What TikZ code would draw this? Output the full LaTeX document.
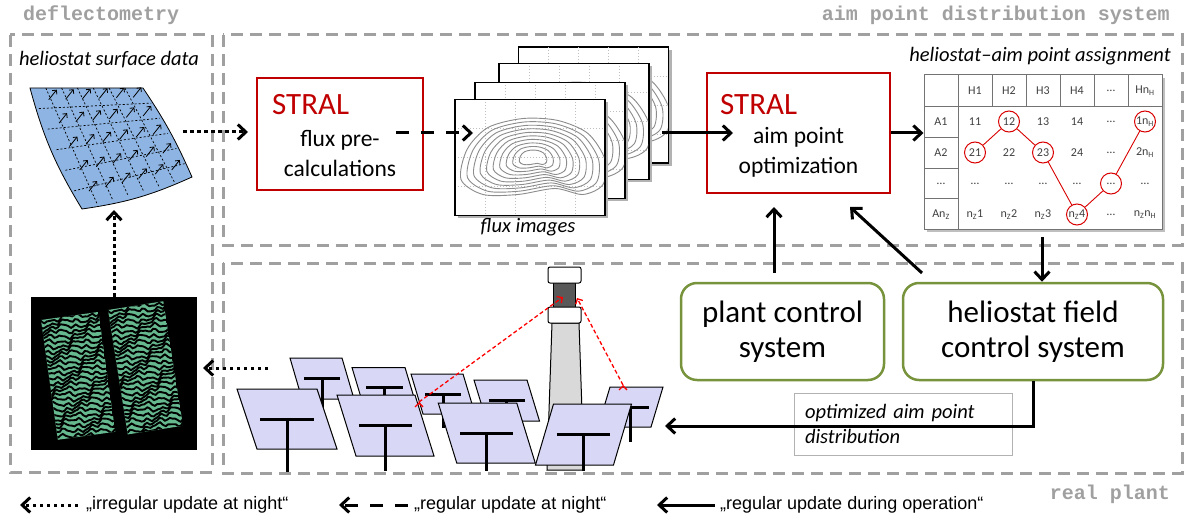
\documentclass[tikz,border=0pt]{standalone}
\usepackage{fontspec}
\setmainfont{Carlito}
\newfontfamily\labelfont{Liberation Mono}
\newfontfamily\legendfont{Liberation Sans}
\usepackage{tikz}
\usetikzlibrary{arrows.meta,calc}

\definecolor{stralred}{HTML}{C00000}
\definecolor{ctrlgreen}{HTML}{77933C}
\definecolor{framegray}{HTML}{A0A0A0}
\definecolor{surfblue}{HTML}{8DB4E2}
\definecolor{panelblue}{HTML}{D8D8F6}
\definecolor{towergray}{HTML}{D9D9D9}
\definecolor{recvgray}{HTML}{595959}
\definecolor{stripegreen}{HTML}{66B88E}
\definecolor{tabgray}{HTML}{404040}

% one heliostat: centre x, centre y, width, height, skew, foot of the post
\newcommand{\heliostat}[6]{%
  \draw[panel] ({#1-#3/2-(#5)/2},{#2-#4/2}) -- ({#1+#3/2-(#5)/2},{#2-#4/2})
     -- ({#1+#3/2+(#5)/2},{#2+#4/2}) -- ({#1-#3/2+(#5)/2},{#2+#4/2}) -- cycle;
  \draw[mast] ({#1-0.34*#3},#2) -- ({#1+0.34*#3},#2);
  \draw[mast] (#1,#2) -- (#1,#6);
}

\begin{document}
\begin{tikzpicture}[x=1pt,y=-1pt,
  dashframe/.style={draw=framegray, line width=3pt, dash pattern=on 12pt off 7pt},
  flow/.style={line width=3pt, -{Straight Barb[length=8pt,width=15pt]}},
  nightdot/.style={flow, dash pattern=on 3.5pt off 3.5pt},
  nightdash/.style={flow, dash pattern=on 13pt off 12pt},
  raydash/.style={draw=red, line width=1.3pt, dash pattern=on 4pt off 2.5pt, -{Straight Barb[length=4pt,width=8pt]}},
  sysname/.style={font=\labelfont\bfseries\fontsize{20}{24}\selectfont, text=framegray, inner sep=0pt},
  caption/.style={font=\itshape\fontsize{20.5}{25}\selectfont, inner sep=0pt},
  stralbox/.style={draw=stralred, line width=2.5pt, minimum width=166pt, minimum height=112pt, inner sep=0pt},
  stral/.style={text=stralred, font=\fontsize{31}{35}\selectfont, inner sep=0pt},
  boxtext/.style={align=center, font=\fontsize{23.5}{30}\selectfont, inner sep=0pt},
  ctrlbox/.style={draw=ctrlgreen, line width=2.5pt, rounded corners=16pt, align=center,
    minimum height=97pt, font=\fontsize{31}{35}\selectfont, inner sep=0pt},
  optbox/.style={draw=black!30, line width=0.8pt, minimum width=218pt, minimum height=62pt,
    text width=196pt, align=left, font=\itshape\fontsize{20.5}{25}\selectfont, inner sep=0pt},
  fluxframe/.style={fill=white, draw=black, line width=1.5pt, minimum width=150pt, minimum height=116pt, inner sep=0pt},
  fluxgrid/.style={draw=black!25, line width=0.6pt, dash pattern=on 1pt off 2pt},
  isoline/.style={draw=black!45, line width=0.9pt},
  surfgrid/.style={draw=black, line width=0.7pt, dash pattern=on 2pt off 2pt},
  surfnormal/.style={draw=black, line width=0.8pt, -{Straight Barb[length=3pt,width=6pt]}},
  tabframe/.style={fill=white, draw=black!55, line width=1pt, minimum width=238pt, minimum height=154pt, inner sep=0pt},
  tabline/.style={draw=black!55, line width=0.8pt},
  cell/.style={text=tabgray, font=\fontsize{12}{14}\selectfont, inner sep=0pt},
  pick/.style={draw=red!85!black, circle, minimum size=21pt, line width=1pt, inner sep=0pt},
  pickline/.style={draw=red!85!black, line width=0.9pt},
  panel/.style={fill=panelblue, draw=black, line width=1pt},
  mast/.style={draw=black, line width=3pt},
  legendtext/.style={font=\legendfont\fontsize{18}{20}\selectfont, inner sep=0pt}]

\useasboundingbox (0,0) rectangle (1187,516);

% dashed frames of the three parts
\draw[dashframe] (10,35) rectangle (212,472);
\draw[dashframe] (223,35) rectangle (1182,245);
\draw[dashframe] (223,263) rectangle (1182,473);
\draw (23,15) node[sysname, anchor=west] (deflect) {deflectometry};
\draw (1170,15) node[sysname, anchor=east] (aps) {aim point distribution system};
\draw (1170,494) node[sysname, anchor=east] (realplant) {real plant};

% heliostat surface data
\draw (109,60) node[caption] (surfcap) {heliostat surface data};
\draw[fill=surfblue, line width=0.8pt] (30,88) -- (143,88) to[bend left=5] (192,177)
   to[bend left=8] (82,209) to[bend left=8] (30,88) -- cycle;
\foreach \t in {0.14,0.28,0.42,0.56,0.7,0.84}
  \draw[surfgrid] ({(1-\t)*30+\t*143},88) -- ({(1-\t)*82+\t*192},{(1-\t)*209+\t*177});
\foreach \u in {0.17,0.34,0.51,0.68,0.85}
  \draw[surfgrid] ({(1-\u)*30+\u*82},{(1-\u)*88+\u*209}) -- ({(1-\u)*143+\u*192},{(1-\u)*88+\u*177});
\foreach \u in {0.1,0.3,0.5,0.7,0.88}
  \foreach \t in {0.12,0.27,0.42,0.57,0.72,0.87}
    \draw[surfnormal] ({(1-\u)*(1-\t)*30+(1-\u)*\t*143+\u*(1-\t)*82+\u*\t*192},
                       {(1-\u)*88+\u*(1-\t)*209+\u*\t*177}) -- ++(8,-10);

% deflectometry image
\draw (114,373.5) node[fill=black, minimum width=166pt, minimum height=153pt, inner sep=0pt] (img) {};
\foreach \sx/\sy/\sw/\sh/\sr in {41/320/58/121/8, 108/310/56/126/9} {
  \begin{scope}[shift={(\sx,\sy)}, rotate=\sr]
    \clip (0,0) rectangle (\sw,\sh);
    \fill[stripegreen] (0,0) rectangle (\sw,\sh);
    \foreach \k in {0,...,28}
      \draw[black, line width=1.9pt] plot[domain=-2:62, samples=26, smooth]
        (\x,{4.5*\k+1+1.8*sin(9*\x+53*\k)+1.4*sin(27*\x+31*\k)+0.8*sin(47*\x+71*\k)});
  \end{scope}
}

% STRAL boxes
\draw (340,134) node[stralbox] (pre) {};
\draw (272,105) node[stral, anchor=west] (preT) {STRAL};
\draw (340,153) node[boxtext] (preB) {flux pre-\\calculations};
\draw (798.5,133) node[stralbox, minimum width=183pt, minimum height=120pt] (opt) {};
\draw (720,105) node[stral, anchor=west] (optT) {STRAL};
\draw (798.5,152.5) node[boxtext] (optB) {aim point\\optimization};

% flux images
\foreach \fx/\fy [count=\i] in {593.5/105,574/121.5,550/140.5,530/157.5} {
  \fill[black!30] (\fx-72,\fy-55) rectangle (\fx+78,\fy+61);
  \draw (\fx,\fy) node[fluxframe] (flux\i) {};
  \begin{scope}
    \clip (\fx-74,\fy-57) rectangle (\fx+74,\fy+57);
    \foreach \gx in {-45,-15,15,45} \draw[fluxgrid] (\fx+\gx,\fy-58) -- (\fx+\gx,\fy+58);
    \foreach \gy in {-29,0,29} \draw[fluxgrid] (\fx-75,\fy+\gy) -- (\fx+75,\fy+\gy);
    \foreach \s in {1,0.91,0.82,0.73,0.64,0.55,0.46,0.37,0.28,0.19}
      \draw[isoline, shift={(\fx+3,\fy)}, scale=\s] plot[smooth cycle] coordinates
        {(-72,22) (-66,-8) (-45,-30) (-10,-39) (25,-37) (55,-24) (72,2) (70,27) (50,37) (22,31) (-15,37) (-50,37)};
  \end{scope}
}
\draw (528,227) node[caption] (fluxcap) {flux images};

% heliostat--aim point table
\draw (1040,56) node[caption] (tabcap) {heliostat–aim point assignment};
\fill[black!25] (927,78) rectangle (1165,232);
\draw (1043,152) node[tabframe] (tab) {};
\foreach \x in {958,992,1026,1060,1094,1128} \draw[tabline] (\x,75) -- (\x,106);
\draw[tabline] (924,106) -- (1162,106);
\draw[tabline] (958,106) -- (958,229);
\foreach \y in {137,168,198} \draw[tabline] (924,\y) -- (958,\y);
\foreach \t [count=\i] in {H1,H2,H3,H4,…,Hn\textsubscript{H}}
  \draw ({958+34*\i-17},90.5) node[cell] (h\i) {\t};
\foreach \t [count=\j] in {A1,A2,…,An\textsubscript{Z}}
  \draw (941,{106+31*\j-15.5}) node[cell] (a\j) {\t};
\foreach \cells [count=\j] in {{11,12,13,14,…,1n\textsubscript{H}},{21,22,23,24,…,2n\textsubscript{H}},{…,…,…,…,…,…},
    {n\textsubscript{Z}1,n\textsubscript{Z}2,n\textsubscript{Z}3,n\textsubscript{Z}4,…,n\textsubscript{Z}n\textsubscript{H}}}
  \foreach \t [count=\i] in \cells
    \draw ({958+34*\i-17},{106+31*\j-15.5}) node[cell] (d\j\i) {\t};
\foreach \n [count=\k] in {d21,d12,d23,d44,d35,d16}
  \draw (\n.center) node[pick] (p\k) {};
\draw[pickline] (p1) -- (p2) -- (p3) -- (p4) -- (p5) -- (p6);

% control systems
\draw (782.5,331.5) node[ctrlbox, minimum width=203pt] (pcs) {plant control\\system};
\draw (1033,331.5) node[ctrlbox, minimum width=260pt] (hfc) {heliostat field\\control system};
\draw (903,424) node[optbox] (optd) {optimized aim point\\distribution};

% heliostat field and tower
\heliostat{322}{378.5}{52}{41}{12}{430}
\heliostat{384.5}{387.5}{53}{40}{12}{410}
\heliostat{443}{394}{52}{40}{12}{428}
\heliostat{506.75}{400.5}{53}{41}{12.5}{440}
\heliostat{630.5}{407}{53}{40}{-12}{442}
\draw[fill=towergray, line width=1pt] (552,323) -- (579,323) -- (584,470) -- (547,470) -- cycle;
\draw[fill=recvgray, line width=1pt] (553,281) rectangle (575,309);
\draw[fill=white, line width=1pt, rounded corners=2pt] (548,267) rectangle (581,283);
\draw[fill=white, line width=1pt, rounded corners=2pt] (548,307) rectangle (581,323);
\heliostat{287}{419}{80}{60}{20}{472}
\heliostat{385.5}{425.5}{78}{61}{19}{471}
\heliostat{486.75}{433}{78.5}{60}{18.5}{471}
\heliostat{583.5}{434.5}{78}{61}{-18}{471}
\coordinate (ray1) at (419,402);
\coordinate (ray2) at (623,385);
\coordinate (rcv1) at (563,297);
\coordinate (rcv2) at (577,298);
\path[raydash] (ray1) edge (rcv1);
\path[raydash] (ray2) edge (rcv2);

% connectors
\coordinate (surfout) at (183,132);
\coordinate (prein) at (248,132);
\coordinate (preout) at (396,133);
\coordinate (fluxin) at (473,133);
\coordinate (fluxout) at (662,133);
\coordinate (optin) at (733,133);
\coordinate (tabout) at (1042,237);
\coordinate (pcsout) at (774,273);
\coordinate (optup) at (774,207);
\coordinate (hfcout) at (922,273);
\coordinate (optdiag) at (850,207);
\coordinate (fieldin) at (665,426);
\coordinate (fieldout) at (268,368);
\coordinate (imgin) at (203,368);
\coordinate (surfin) at (114,210);
\path[nightdot] (surfout) edge (prein);
\path[nightdash] (preout) edge (fluxin);
\path[flow] (fluxout) edge (optin);
\path[flow] (opt.east) edge (tab.west |- opt.east);
\path[flow] (tabout) edge (tabout |- hfc.north);
\path[flow] (pcsout) edge (optup);
\path[flow] (hfcout) edge (optdiag);
\draw[flow] (hfc.south) |- (fieldin);
\path[nightdot] (fieldout) edge (imgin);
\path[nightdot] (img.north) edge (surfin);

% legend
\coordinate (lg1a) at (78,505);  \coordinate (lg1b) at (20,505);
\coordinate (lg2a) at (408,505); \coordinate (lg2b) at (339,505);
\coordinate (lg3a) at (715,505); \coordinate (lg3b) at (657,505);
\path[nightdot] (lg1a) edge (lg1b);
\path[nightdash] (lg2a) edge (lg2b);
\path[flow] (lg3a) edge (lg3b);
\draw (86,505) node[legendtext, anchor=west] (lg1) {„irregular update at night“};
\draw (414,505) node[legendtext, anchor=west] (lg2) {„regular update at night“};
\draw (720,505) node[legendtext, anchor=west] (lg3) {„regular update during operation“};

\end{tikzpicture}
\end{document}
